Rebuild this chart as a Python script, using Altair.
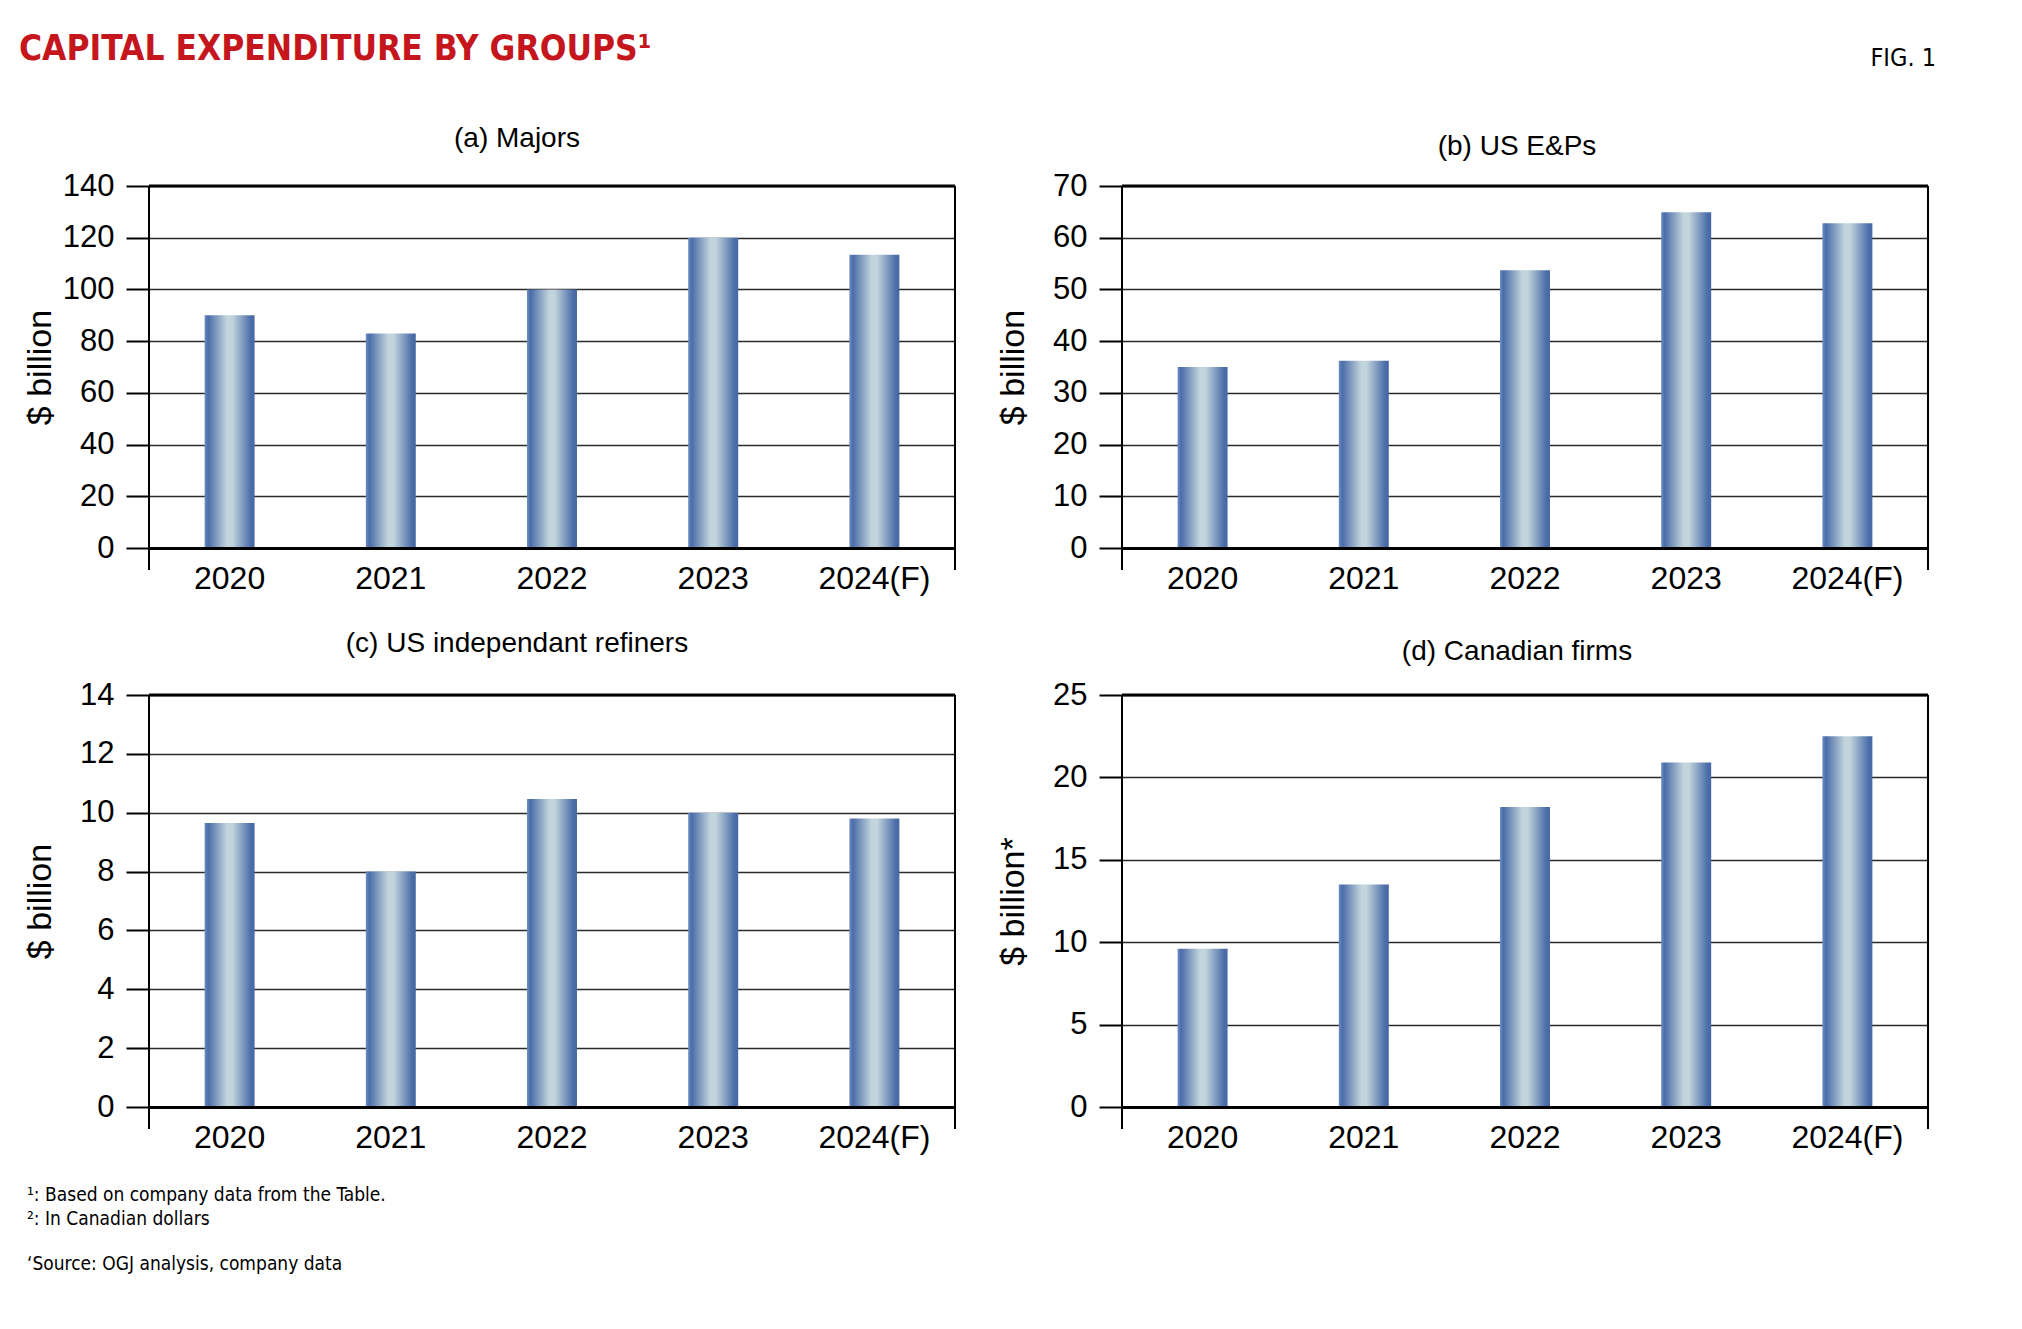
import altair as alt
import pandas as pd

# ---------------- data ----------------
years = ["2020", "2021", "2022", "2023", "2024(F)"]
majors = [90, 83, 100, 120, 113.4]
us_eps = [35, 36.2, 53.7, 64.9, 62.8]
refiners = [9.65, 8.0, 10.47, 10.0, 9.8]
canadian = [9.6, 13.5, 18.2, 20.9, 22.5]

panel_titles = ["(a) Majors", "(b) US E&Ps", "(c) US independant refiners", "(d) Canadian firms"]
y_titles = ["$ billion", "$ billion", "$ billion", "$ billion*"]
ticks_a = [0, 20, 40, 60, 80, 100, 120, 140]
ticks_b = [0, 10, 20, 30, 40, 50, 60, 70]
ticks_c = [0, 2, 4, 6, 8, 10, 12, 14]
ticks_d = [0, 5, 10, 15, 20, 25]

main_title = ["CAPITAL EXPENDITURE BY GROUPS\u00b9"]
fig_label = ["FIG. 1"]
notes = ["\u00b9: Based on company data from the Table.",
         "\u00b2: In Canadian dollars",
         "\u2018Source: OGJ analysis, company data"]

# ---------------- style ----------------
SANS = "Liberation Sans, Arial, Helvetica, sans-serif"
NARROW = "Liberation Sans Narrow, Arial Narrow, DejaVu Sans Condensed, sans-serif"
RED = "#c4161c"
W = 806

bar_fill = alt.Gradient(
    gradient="linear", x1=0, x2=1, y1=0, y2=0,
    stops=[
        alt.GradientStop(offset=0.0, color="#6d8cc2"),
        alt.GradientStop(offset=0.07, color="#4a6da9"),
        alt.GradientStop(offset=0.45, color="#c3d5dc"),
        alt.GradientStop(offset=0.55, color="#c3d5dc"),
        alt.GradientStop(offset=0.93, color="#4a6da9"),
        alt.GradientStop(offset=1.0, color="#4868a3"),
    ],
)


def text_layer(texts, x, y, font, size, color="black", weight="normal", align="left"):
    layers = []
    for i, t in enumerate(texts):
        layers.append(
            alt.Chart(pd.DataFrame({"t": [t]}))
            .mark_text(font=font, fontSize=size, color=color, fontWeight=weight,
                       align=align, baseline="alphabetic")
            .encode(text="t:N", x=alt.value(x), y=alt.value(y[i]))
        )
    return layers


def panel(values, title, ticks, ytitle, h, tdx, ty, extra=()):
    df = pd.DataFrame({"year": years, "value": values})
    ymax = ticks[-1]
    x = alt.X(
        "year:N", sort=years,
        scale=alt.Scale(paddingInner=0.69, paddingOuter=0.345),
        axis=alt.Axis(title=None, ticks=False, domain=True, domainColor="black",
                      domainWidth=3, labelFont=SANS, labelFontSize=32, labelColor="black",
                      labelPadding=15, labelAngle=0, grid=False, zindex=1),
    )
    y = alt.Y(
        "value:Q",
        scale=alt.Scale(domain=[0, ymax], nice=False, zero=True),
        axis=alt.Axis(values=ticks, title=ytitle, titleX=-109, titleY=h / 2,
                      titleAngle=270, titleAlign="center", titleBaseline="middle",
                      titleFont=SANS, titleFontSize=34, titleFontWeight="normal",
                      titleColor="black", grid=True, gridColor="#2a2a2a", gridWidth=1.5,
                      domain=False, ticks=True, tickSize=23, tickWidth=2, tickColor="black",
                      labelFont=SANS, labelFontSize=31, labelColor="black", labelPadding=12,
                      format="d"),
    )
    bars = alt.Chart(df).mark_bar(color=bar_fill).encode(x=x, y=y)
    one = pd.DataFrame({"v": [0]})
    top = alt.Chart(one).mark_rule(color="black", strokeWidth=3).encode(y=alt.datum(ymax))
    left = alt.Chart(one).mark_rule(color="black", strokeWidth=2).encode(
        x=alt.value(0), y=alt.value(0), y2=alt.value(h + 22))
    right = alt.Chart(one).mark_rule(color="black", strokeWidth=2).encode(
        x=alt.value(W), y=alt.value(0), y2=alt.value(h + 22))
    ttl = text_layer([title], W / 2 + tdx, [ty], SANS, 28, align="center")
    return alt.layer(bars, top, left, right, *ttl, *extra).properties(width=W, height=h)


H1, H2 = 362, 412

hdr = text_layer(main_title, -130, [-126], NARROW, 35, color=RED, weight="bold")
fig = text_layer(fig_label, 814, [-120], NARROW, 25, align="right")
foot = text_layer(notes, -122, [506, 530, 575], NARROW, 19)

pa = panel(majors, panel_titles[0], ticks_a, y_titles[0], H1, -35, -39, hdr)
pb = panel(us_eps, panel_titles[1], ticks_b, y_titles[1], H1, -8, -31, fig)
pc = panel(refiners, panel_titles[2], ticks_c, y_titles[2], H2, -35, -43, foot)
pd_ = panel(canadian, panel_titles[3], ticks_d, y_titles[3], H2, -8, -35)

chart = (
    alt.concat(pa, pb, pc, pd_, columns=2, spacing={"row": 147, "column": 167}, bounds="flush")
    .properties(padding={"left": 10, "top": 23, "right": 10, "bottom": 10}, background="white")
    .configure_view(stroke="transparent")
)

chart.save("out.html", embed_options={"renderer": "svg", "actions": False})
